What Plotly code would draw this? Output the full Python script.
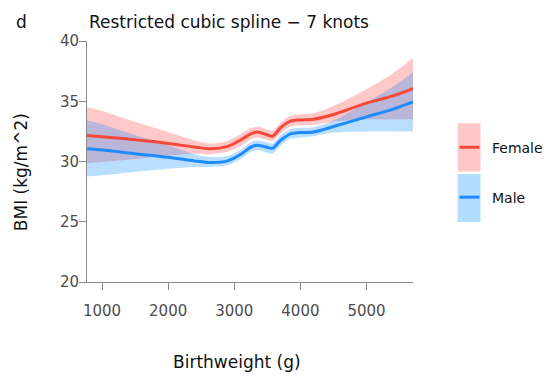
import plotly.graph_objects as go

# ---- data ----
bw = [773, 1000, 1500, 2000, 2400, 2650, 2900, 3100, 3250, 3350, 3480, 3580, 3700, 3850, 4000, 4200, 4500, 5000, 5400, 5703]

female_fit = [32.15, 32.05, 31.8, 31.5, 31.2, 31.05, 31.25, 31.8, 32.3, 32.45, 32.25, 32.1, 32.8, 33.35, 33.45, 33.5, 33.9, 34.85, 35.45, 36.05]
female_lo  = [29.85, 29.95, 30.2, 30.5, 30.65, 30.6, 30.8, 31.3, 31.85, 32.0, 31.8, 31.7, 32.3, 32.9, 33.0, 33.05, 33.3, 33.5, 33.5, 33.5]
female_hi  = [34.5, 34.2, 33.3, 32.45, 31.75, 31.5, 31.7, 32.3, 32.75, 32.9, 32.7, 32.55, 33.25, 33.8, 33.9, 34.0, 34.6, 36.0, 37.3, 38.6]

male_fit = [31.05, 30.95, 30.65, 30.35, 30.05, 29.92, 30.05, 30.6, 31.2, 31.35, 31.2, 31.1, 31.75, 32.3, 32.4, 32.45, 32.9, 33.7, 34.35, 34.95]
male_lo  = [28.75, 28.85, 29.15, 29.4, 29.55, 29.55, 29.7, 30.2, 30.8, 30.95, 30.75, 30.65, 31.3, 31.9, 32.0, 32.1, 32.4, 32.5, 32.5, 32.5]
male_hi  = [33.4, 33.1, 32.2, 31.35, 30.6, 30.35, 30.45, 31.0, 31.6, 31.75, 31.6, 31.5, 32.2, 32.7, 32.8, 32.85, 33.4, 34.9, 36.2, 37.4]

x_ticks = [1000, 2000, 3000, 4000, 5000]
y_ticks = [20, 25, 30, 35, 40]

RED = "#F5493A"
BLUE = "#1E8CFF"
PINK = "#FFC8C8"
BLUE_FILL = "rgba(5,138,255,0.28)"

FONT = "DejaVu Sans"

fig = go.Figure()

def band(lo, hi, color):
    fig.add_trace(go.Scatter(x=bw, y=lo, mode="lines", line=dict(width=0, shape="spline", smoothing=0.8),
                             hoverinfo="skip", showlegend=False))
    fig.add_trace(go.Scatter(x=bw, y=hi, mode="lines", line=dict(width=0, shape="spline", smoothing=0.8),
                             fill="tonexty", fillcolor=color, hoverinfo="skip", showlegend=False))

band(female_lo, female_hi, PINK)
band(male_lo, male_hi, BLUE_FILL)

fig.add_trace(go.Scatter(x=bw, y=female_fit, mode="lines", name="Female",
                         line=dict(color=RED, width=3, shape="spline", smoothing=0.8), showlegend=False))
fig.add_trace(go.Scatter(x=bw, y=male_fit, mode="lines", name="Male",
                         line=dict(color=BLUE, width=3, shape="spline", smoothing=0.8), showlegend=False))

axis_common = dict(showgrid=False, zeroline=False, showline=True, linecolor="#8a8a8a", linewidth=1,
                   ticks="outside", ticklen=7, tickcolor="#8a8a8a", tickwidth=1,
                   tickfont=dict(family=FONT, size=15, color="#4d4d4d"))

fig.update_xaxes(range=[773, 5703], tickvals=x_ticks, ticklabelstandoff=8, **axis_common)
fig.update_yaxes(range=[20, 40], tickvals=y_ticks, ticklabelstandoff=-3, **axis_common)

annotations = [
    dict(text="Restricted cubic spline \u2212 7 knots", xref="paper", yref="paper", x=0, y=1.079,
         xanchor="left", yanchor="middle", showarrow=False, font=dict(family=FONT, size=17, color="#111")),
    dict(text="d", xref="paper", yref="paper", x=-0.2, y=1.079, xanchor="center", yanchor="middle",
         showarrow=False, font=dict(family=FONT, size=17, color="#111")),
    dict(text="Birthweight (g)", xref="paper", yref="paper", x=0.46, y=-0.334, xanchor="center", yanchor="middle",
         showarrow=False, font=dict(family=FONT, size=17, color="#111")),
    dict(text="BMI (kg/m^2)", xref="paper", yref="paper", x=-0.2, y=0.455, xanchor="center", yanchor="middle",
         textangle=-90, showarrow=False, font=dict(family=FONT, size=17, color="#111")),
    dict(text="Female", xref="paper", yref="paper", x=1.237, y=0.557, xanchor="left", yanchor="middle",
         showarrow=False, font=dict(family=FONT, size=14, color="#111")),
    dict(text="Male", xref="paper", yref="paper", x=1.237, y=0.35, xanchor="left", yanchor="middle",
         showarrow=False, font=dict(family=FONT, size=14, color="#111")),
]

shapes = [
    dict(type="rect", xref="paper", yref="paper", x0=1.137, x1=1.207, y0=0.458, y1=0.659,
         fillcolor=PINK, line=dict(width=0), layer="below"),
    dict(type="rect", xref="paper", yref="paper", x0=1.137, x1=1.207, y0=0.249, y1=0.448,
         fillcolor="#B4DCFF", line=dict(width=0), layer="below"),
    dict(type="line", xref="paper", yref="paper", x0=1.143, x1=1.204, y0=0.559, y1=0.559,
         line=dict(color=RED, width=3)),
    dict(type="line", xref="paper", yref="paper", x0=1.143, x1=1.204, y0=0.352, y1=0.352,
         line=dict(color=BLUE, width=3)),
]

fig.update_layout(
    width=549, height=378,
    margin=dict(l=87, r=136, t=41, b=96),
    paper_bgcolor="white", plot_bgcolor="white",
    annotations=annotations, shapes=shapes,
    showlegend=False,
)

fig.write_html("out.html")
